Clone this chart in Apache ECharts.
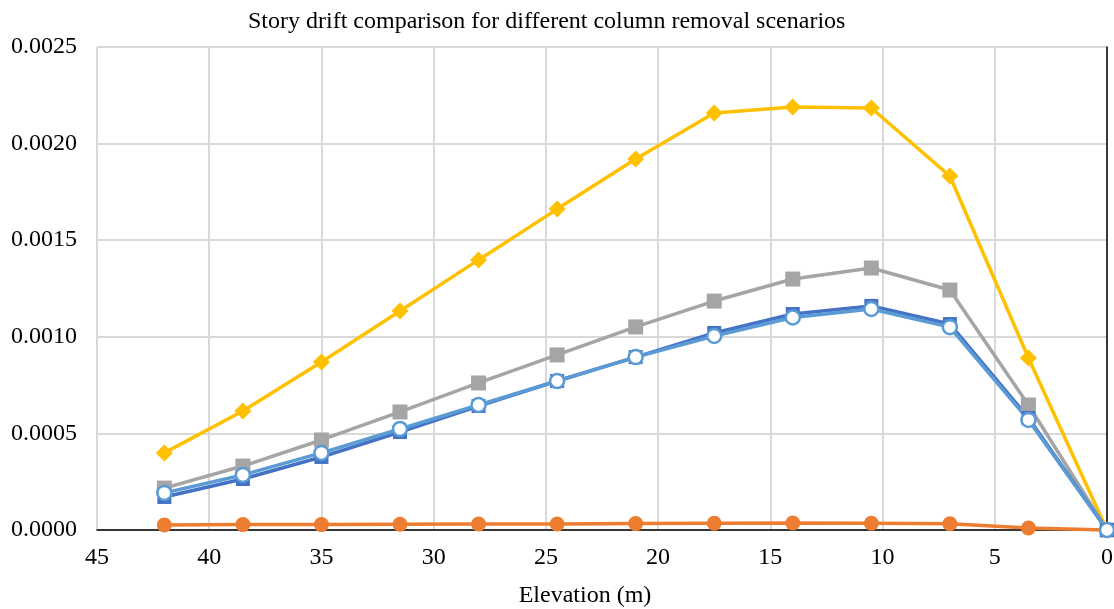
<!DOCTYPE html>
<html><head><meta charset="utf-8">
<script src="https://cdn.jsdelivr.net/npm/echarts@6/dist/echarts.min.js"></script>
<style>html,body{margin:0;padding:0;background:#fff}#c{width:1114px;height:609px}</style>
</head><body><div id="c"></div>
<script>
const elevations = [42, 38.5, 35, 31.5, 28, 24.5, 21, 17.5, 14, 10.5, 7, 3.5, 0];
const seriesYellow = [0.000399, 0.000616, 0.000870, 0.001134, 0.001398, 0.001661, 0.00192, 0.002158, 0.00219, 0.002184, 0.001832, 0.00089, 0];
const seriesGray = [0.000217, 0.000331, 0.000466, 0.000611, 0.000761, 0.000906, 0.001051, 0.001185, 0.001299, 0.001356, 0.001242, 0.000647, 0];
const seriesDarkBlue = [0.000171, 0.000264, 0.000378, 0.000507, 0.000642, 0.000771, 0.000895, 0.00102, 0.001118, 0.00116, 0.001066, 0.00058, 0];
const seriesLightBlue = [0.000192, 0.000285, 0.000399, 0.000523, 0.000647, 0.000771, 0.000895, 0.001004, 0.0011, 0.001144, 0.00105, 0.00057, 0];
const seriesOrange = [0.000026, 0.000028, 0.000028, 0.00003, 0.000031, 0.000031, 0.000033, 0.000035, 0.000036, 0.000035, 0.000032, 0.00001, 0];

const pair = arr => elevations.map((x, i) => [x, arr[i]]);
const font = '"Liberation Serif", "DejaVu Serif", serif';

function mk(name, data, color, symbol, size, opts) {
  return Object.assign({
    name, type: 'line', data: pair(data), symbol, symbolSize: size,
    lineStyle: { color, width: 3.5 },
    itemStyle: { color, borderColor: color, borderWidth: 0 },
    emphasis: { disabled: true }, clip: false, animation: false
  }, opts || {});
}

const chart = echarts.init(document.getElementById('c'), null, { renderer: 'canvas' });
chart.setOption({
  animation: false,
  backgroundColor: '#fff',
  title: {
    text: 'Story drift comparison for different column removal scenarios',
    left: 243, top: 5,
    textStyle: { fontFamily: font, fontSize: 24, fontWeight: 'normal', color: '#000' }
  },
  grid: { left: 97, right: 7, top: 47, bottom: 79, containLabel: false, outerBoundsMode: 'none' },
  xAxis: {
    type: 'value', inverse: true, min: 0, max: 45, interval: 5,
    name: 'Elevation (m)', nameLocation: 'middle', nameGap: 54,
    nameTextStyle: { fontFamily: font, fontSize: 24, color: '#000', padding: [0, 34, 0, 0] },
    axisLine: { show: true, onZero: false, lineStyle: { color: '#000', width: 1.5 } },
    axisTick: { show: false },
    axisLabel: { fontFamily: font, fontSize: 24, color: '#000', margin: 16 },
    splitLine: { show: true, lineStyle: { color: '#d9d9d9', width: 2 } }
  },
  yAxis: [
    { type: 'value', min: 0, max: 0.0025, interval: 0.0005, position: 'right',
      axisLine: { show: true, lineStyle: { color: '#000', width: 1.5 } },
      axisTick: { show: false }, axisLabel: { show: false },
      splitLine: { show: true, lineStyle: { color: '#d9d9d9', width: 2 } } },
    { type: 'value', min: 0, max: 0.0025, interval: 0.0005, position: 'left',
      axisLine: { show: false }, axisTick: { show: false },
      axisLabel: { fontFamily: font, fontSize: 24, color: '#000', margin: 20,
        formatter: v => v.toFixed(4) },
      splitLine: { show: false } }
  ],
  series: [
    mk('Orange', seriesOrange, '#ED7D31', 'circle', 15),
    mk('Yellow', seriesYellow, '#FFC000', 'diamond', 17),
    mk('Gray', seriesGray, '#A5A5A5', 'rect', 15),
    mk('DarkBlue', seriesDarkBlue, '#4472C4', 'rect', 14),
    mk('LightBlue', seriesLightBlue, '#5B9BD5', 'circle', 14, {
      itemStyle: { color: '#fff', borderColor: '#5B9BD5', borderWidth: 2.5 }
    })
  ]
});
</script>
</body></html>
